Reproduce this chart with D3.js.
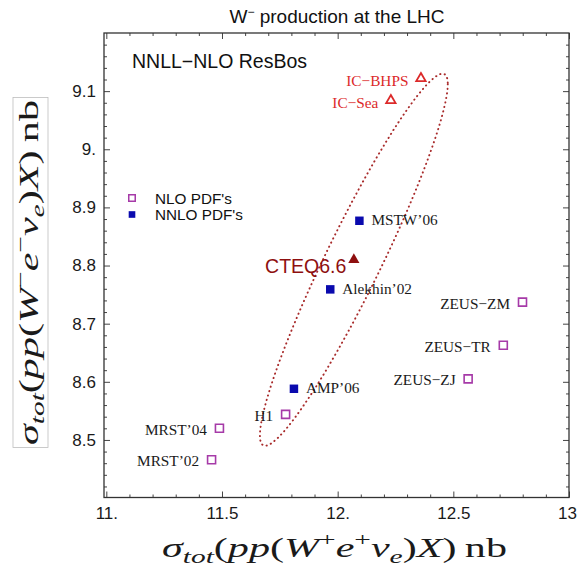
<!DOCTYPE html>
<html>
<head>
<meta charset="utf-8">
<script src="https://cdn.jsdelivr.net/npm/d3@7"></script>
<style>
  body { margin: 0; background: #fff; }
  svg { display: block; }
</style>
</head>
<body>
<svg id="chart" width="577" height="570"></svg>
<script>
// W+ and W- total cross sections (nb) for each PDF set
const pdfNames   = ["IC−BHPS", "IC−Sea", "CTEQ6.6", "MSTW’06", "Alekhin’02", "AMP’06",
                    "ZEUS−ZM", "ZEUS−TR", "ZEUS−ZJ", "H1", "MRST’04", "MRST’02"];
const pdfKind    = ["IC", "IC", "CTEQ", "NNLO", "NNLO", "NNLO",
                    "NLO", "NLO", "NLO", "NLO", "NLO", "NLO"];
const sigmaWplus  = [12.36, 12.23, 12.07, 12.094, 11.968, 11.811,
                     12.799, 12.716, 12.564, 11.775, 11.489, 11.455];
const sigmaWminus = [9.122, 9.084, 8.810, 8.877, 8.759, 8.588,
                     8.737, 8.663, 8.605, 8.544, 8.520, 8.466];
const labelSide  = ["left", "left", "left", "right", "right", "right",
                    "left", "left", "left", "left", "left", "left"];

// CTEQ6.6 uncertainty ellipse (centred on the CTEQ6.6 point)
const ellipseHalfWidth = [0.406, 0.32];
const ellipseCorrelation = 0.944;

// Axis ticks
const xMajor = [11, 11.5, 12, 12.5, 13];
const xTickLabels = ["11.", "11.5", "12.", "12.5", "13"];
const yMajor = [8.5, 8.6, 8.7, 8.8, 8.9, 9.0, 9.1];
const yTickLabels = ["8.5", "8.6", "8.7", "8.8", "8.9", "9.", "9.1"];

// Legend
const legendLabels = ["NLO PDF's", "NNLO PDF's"];
const legendKinds  = ["NLO", "NNLO"];

const svg = d3.select("#chart");
const frame = { left: 104, right: 569, top: 33, bottom: 497.5 };

const x = d3.scaleLinear().domain([10.99, 13]).range([frame.left, frame.right]);
const y = d3.scaleLinear().domain([8.401, 9.2]).range([frame.bottom, frame.top]);

const sans = "'Liberation Sans', Arial, Helvetica, sans-serif";
const serif = "'Liberation Serif', 'Times New Roman', serif";

const colors = { NLO: "#a63aa8", NNLO: "#0a0aae", IC: "#dc2a2a", CTEQ: "#8e0f0f" };

// ---- Title
const title = svg.append("text")
  .attr("x", 337).attr("y", 23)
  .attr("text-anchor", "middle")
  .attr("font-family", sans).attr("font-size", 19).attr("fill", "#111");
title.append("tspan").text("W");
title.append("tspan").attr("font-size", 12).attr("dy", -7).text("−");
title.append("tspan").attr("dy", 7).text(" production at the LHC");

// ---- Ticks on all four sides (pointing inward)
const xMinor = d3.range(11.1, 13, 0.1).filter(v => Math.abs(v * 2 - Math.round(v * 2)) > 1e-6);
const yMinor = d3.range(8.42, 9.2, 0.02).filter(v => Math.abs(v * 10 - Math.round(v * 10)) > 1e-6);

function styleAxis(g) {
  g.select(".domain").remove();
  g.selectAll(".tick line").attr("stroke", "#444").attr("stroke-width", 1);
  g.selectAll(".tick text").attr("font-family", sans).attr("font-size", 17).attr("fill", "#1a1a1a");
}

const xAxisG = svg.append("g").attr("transform", `translate(0,${frame.bottom})`)
  .call(d3.axisBottom(x).tickValues(xMajor).tickFormat((d, i) => xTickLabels[i]).tickSize(-6).tickPadding(9.5))
  .call(styleAxis);
// the last label sits against the right edge of the page
xAxisG.selectAll(".tick text").filter(d => d === 13)
  .attr("text-anchor", "end").attr("x", 7.5);

svg.append("g").attr("transform", `translate(0,${frame.bottom})`)
  .call(d3.axisBottom(x).tickValues(xMinor).tickFormat("").tickSize(-3))
  .call(styleAxis);
svg.append("g").attr("transform", `translate(0,${frame.top})`)
  .call(d3.axisTop(x).tickValues(xMajor).tickFormat("").tickSize(-6))
  .call(styleAxis);
svg.append("g").attr("transform", `translate(0,${frame.top})`)
  .call(d3.axisTop(x).tickValues(xMinor).tickFormat("").tickSize(-3))
  .call(styleAxis);

svg.append("g").attr("transform", `translate(${frame.left},0)`)
  .call(d3.axisLeft(y).tickValues(yMajor).tickFormat((d, i) => yTickLabels[i]).tickSize(-6).tickPadding(8))
  .call(styleAxis);
svg.append("g").attr("transform", `translate(${frame.left},0)`)
  .call(d3.axisLeft(y).tickValues(yMinor).tickFormat("").tickSize(-3))
  .call(styleAxis);
svg.append("g").attr("transform", `translate(${frame.right},0)`)
  .call(d3.axisRight(y).tickValues(yMajor).tickFormat("").tickSize(-6))
  .call(styleAxis);
svg.append("g").attr("transform", `translate(${frame.right},0)`)
  .call(d3.axisRight(y).tickValues(yMinor).tickFormat("").tickSize(-3))
  .call(styleAxis);

// Frame
svg.append("rect")
  .attr("x", frame.left).attr("y", frame.top)
  .attr("width", frame.right - frame.left).attr("height", frame.bottom - frame.top)
  .attr("fill", "none").attr("stroke", "#333").attr("stroke-width", 1.3);

// ---- Ellipse around CTEQ6.6
const ci = pdfKind.indexOf("CTEQ");
const cx = sigmaWplus[ci], cy = sigmaWminus[ci];
const delta = Math.acos(ellipseCorrelation);
const ellipsePts = d3.range(0, 361, 1).map(deg => {
  const t = deg * Math.PI / 180;
  return [cx + ellipseHalfWidth[0] * Math.cos(t), cy + ellipseHalfWidth[1] * Math.cos(t + delta)];
});
svg.append("path")
  .attr("d", d3.line().x(d => x(d[0])).y(d => y(d[1]))(ellipsePts))
  .attr("fill", "none")
  .attr("stroke", "#a82a2a")
  .attr("stroke-width", 1.9)
  .attr("stroke-linecap", "round")
  .attr("stroke-dasharray", "0.3 4.3");

// ---- Markers
const points = pdfNames.map((name, i) => ({
  name, kind: pdfKind[i], wp: sigmaWplus[i], wm: sigmaWminus[i], side: labelSide[i]
}));

function drawMarker(sel, kind) {
  if (kind === "NLO") {
    sel.append("path").attr("d", d3.symbol(d3.symbolSquare, 64)())
      .attr("fill", "#fff").attr("stroke", colors.NLO).attr("stroke-width", 1.6);
  } else if (kind === "NNLO") {
    sel.append("path").attr("d", d3.symbol(d3.symbolSquare, 72)())
      .attr("fill", colors.NNLO);
  } else if (kind === "IC") {
    sel.append("path").attr("d", d3.symbol(d3.symbolTriangle, 38)())
      .attr("fill", "none").attr("stroke", colors.IC).attr("stroke-width", 1.8)
      .attr("stroke-linejoin", "miter");
  } else {
    sel.append("path").attr("d", d3.symbol(d3.symbolTriangle, 54)())
      .attr("fill", colors.CTEQ);
  }
}

const marks = svg.append("g").selectAll("g.pt").data(points).join("g")
  .attr("class", "pt")
  .attr("transform", d => `translate(${x(d.wp)},${y(d.wm)})`);
marks.each(function (d) { drawMarker(d3.select(this), d.kind); });

// ---- Point labels
marks.append("text")
  .attr("text-anchor", d => d.side === "right" ? "start" : "end")
  .attr("x", d => d.kind === "CTEQ" ? -7.5 : (d.side === "right" ? 12 : -12.5))
  .attr("y", d => d.kind === "CTEQ" ? 13.5 : d.kind === "IC" ? 7.5 : d.side === "right" ? 4.5 : 6.5)
  .attr("font-family", d => d.kind === "CTEQ" ? sans : serif)
  .attr("font-size", d => d.kind === "CTEQ" ? 19.5 : 15.3)
  .attr("fill", d => d.kind === "CTEQ" ? colors.CTEQ : d.kind === "IC" ? colors.IC : "#1a1a1a")
  .text(d => d.name);

// ---- Legend
svg.append("text")
  .attr("x", 132).attr("y", 68)
  .attr("font-family", sans).attr("font-size", 19.5).attr("fill", "#111")
  .text("NNLL−NLO ResBos");

const legend = svg.append("g").selectAll("g").data(legendLabels).join("g")
  .attr("transform", (d, i) => `translate(132,${198 + i * 16.5})`);
legend.each(function (d, i) {
  const g = d3.select(this);
  if (legendKinds[i] === "NLO") {
    g.append("path").attr("d", d3.symbol(d3.symbolSquare, 42)())
      .attr("fill", "#fff").attr("stroke", colors.NLO).attr("stroke-width", 1.5);
  } else {
    g.append("path").attr("d", d3.symbol(d3.symbolSquare, 44)()).attr("fill", colors.NNLO);
  }
});
legend.append("text")
  .attr("x", 23).attr("y", 5.5)
  .attr("font-family", sans).attr("font-size", 15.3).attr("fill", "#111")
  .text(d => d);

// ---- Axis titles (math-style)
function mathLabel(parent, segments, size, targetWidth) {
  const g = parent.append("g");
  const t = g.append("text").attr("font-family", serif).attr("font-size", size).attr("fill", "#1a1a1a");
  let offset = 0;
  segments.forEach(s => {
    const target = s.pos === "sub" ? size * 0.22 : s.pos === "sup" ? -size * 0.38 : 0;
    t.append("tspan")
      .attr("font-style", s.it ? "italic" : "normal")
      .attr("font-size", s.pos ? size * 0.7 : size)
      .attr("dy", target - offset)
      .text(s.t);
    offset = target;
  });
  const bb = t.node().getBBox();
  const sx = targetWidth / bb.width;
  t.attr("transform", `scale(${sx},1) translate(${-bb.x - bb.width / 2},0)`);
  return g;
}

const xLabelSegs = [
  { t: "σ", it: true }, { t: "tot", it: true, pos: "sub" },
  { t: "(" }, { t: "pp", it: true }, { t: "(" }, { t: "W", it: true },
  { t: "+", pos: "sup" }, { t: "e", it: true }, { t: "+", pos: "sup" },
  { t: "ν", it: true }, { t: "e", it: true, pos: "sub" },
  { t: ")" }, { t: "X", it: true }, { t: ")" }, { t: "\u2009nb" }
];
const yLabelSegs = [
  { t: "σ", it: true }, { t: "tot", it: true, pos: "sub" },
  { t: "(" }, { t: "pp", it: true }, { t: "(" }, { t: "W", it: true },
  { t: "−", pos: "sup" }, { t: "e", it: true }, { t: "−", pos: "sup" },
  { t: "ν", it: true }, { t: "e", it: true, pos: "sub" },
  { t: ")" }, { t: "X", it: true }, { t: ")" }, { t: "\u2009nb" }
];

const xl = mathLabel(svg, xLabelSegs, 28, 345);
xl.attr("transform", "translate(334.5,557)");

const yl = mathLabel(svg, yLabelSegs, 28, 345);
yl.attr("transform", "translate(38,272.5) rotate(-90)");
yl.insert("rect", "text")
  .attr("x", -175).attr("y", -25).attr("width", 350).attr("height", 35)
  .attr("fill", "none").attr("stroke", "#bdbdbd").attr("stroke-width", 0.8);
</script>
</body>
</html>
